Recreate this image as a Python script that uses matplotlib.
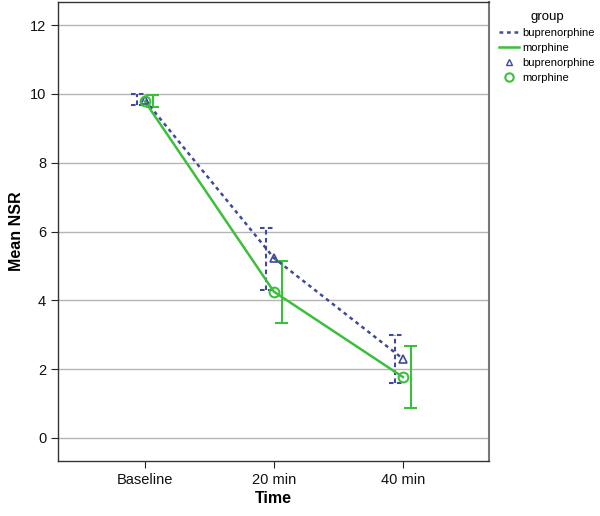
import matplotlib
matplotlib.use("Agg")
import matplotlib.pyplot as plt
from matplotlib.lines import Line2D
import numpy as np

plt.rcParams['font.family'] = ['Liberation Sans', 'DejaVu Sans']

times = ['Baseline', '20 min', '40 min']
bup_mean = [9.82, 5.23, 2.30]
bup_low = [9.68, 4.30, 1.60]
bup_high = [10.00, 6.10, 3.00]
mor_mean = [9.78, 4.25, 1.77]
mor_low = [9.62, 3.34, 0.87]
mor_high = [9.97, 5.14, 2.67]

bup_color = '#3f4a9c'
mor_color = '#3cc03c'


def main():
    fig = plt.figure(figsize=(6.0, 5.16), dpi=100)
    ax = fig.add_axes([0.0967, 0.1066, 0.7183, 0.8894])

    x = np.arange(len(times))
    off = 0.06
    cap = 0.05

    for yv in range(0, 13, 2):
        ax.axhline(yv, color='#b4b4b4', lw=1.0, zorder=0)

    # error bars, offset from the markers like SPSS does
    dash = (0, (2.2, 1.6))
    ax.vlines(x - off, bup_low, bup_high, colors=bup_color, lw=1.5,
              linestyles=[dash], zorder=2)
    ax.hlines(bup_low, x - off - cap, x - off + cap, colors=bup_color, lw=1.5,
              linestyles=[dash], zorder=2)
    ax.hlines(bup_high, x - off - cap, x - off + cap, colors=bup_color, lw=1.5,
              linestyles=[dash], zorder=2)

    ax.vlines(x + off, mor_low, mor_high, colors=mor_color, lw=1.5, zorder=2)
    ax.hlines(mor_low, x + off - cap, x + off + cap, colors=mor_color, lw=1.5, zorder=2)
    ax.hlines(mor_high, x + off - cap, x + off + cap, colors=mor_color, lw=1.5, zorder=2)

    ax.plot(x, bup_mean, color=bup_color, ls=(0, (1.5, 1.5)), lw=1.8, zorder=3)
    ax.plot(x, mor_mean, color=mor_color, ls='-', lw=1.8, zorder=3)
    ax.plot(x, bup_mean, ls='none', marker='^', ms=6, mfc='none',
            mec=bup_color, mew=1.2, zorder=4)
    ax.plot(x, mor_mean, ls='none', marker='o', ms=7, mfc='none',
            mec=mor_color, mew=1.5, zorder=4)

    ax.set_xlim(-0.674, 2.667)
    ax.set_ylim(-0.67, 12.67)
    ax.set_xticks(x)
    ax.set_xticklabels(times)
    ax.set_yticks(range(0, 13, 2))
    ax.tick_params(labelsize=10.5, length=5, color='#222222', labelcolor='#111111')
    ax.set_xlabel('Time', fontsize=11.5, fontweight='bold', labelpad=3)
    ax.set_ylabel('Mean NSR', fontsize=11.5, fontweight='bold')
    for s in ax.spines.values():
        s.set_color('#333333')
        s.set_linewidth(1.0)
    ax.spines['right'].set_color('#777777')
    ax.spines['right'].set_linewidth(1.5)

    handles = [
        Line2D([], [], color=bup_color, ls=(0, (1.5, 1.5)), lw=1.8),
        Line2D([], [], color=mor_color, ls='-', lw=1.8),
        Line2D([], [], ls='none', marker='^', ms=4, mfc='none', mec=bup_color),
        Line2D([], [], ls='none', marker='o', ms=6, mfc='none', mec=mor_color, mew=1.5),
    ]
    labels = ['buprenorphine', 'morphine', 'buprenorphine', 'morphine']
    fig.legend(handles, labels, title='group', loc='upper left',
               bbox_to_anchor=(0.825, 0.988), frameon=False,
               fontsize=8, title_fontsize=9.5, handlelength=1.8,
               handletextpad=0.25, labelspacing=0.45, borderaxespad=0)

    fig.savefig('out.png', dpi=100)


if __name__ == '__main__':
    main()
